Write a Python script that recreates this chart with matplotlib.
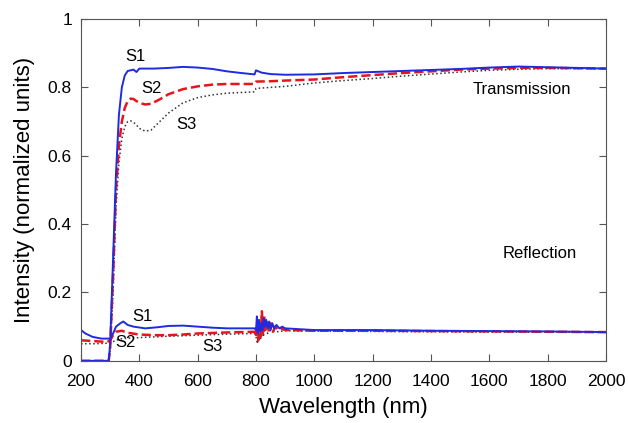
import matplotlib
matplotlib.use("Agg")
import matplotlib.pyplot as plt
from matplotlib.ticker import FormatStrFormatter

plt.rcParams['font.family'] = ['Liberation Sans', 'DejaVu Sans']

# transmission spectra
wl_t1 = [200, 295, 300, 310, 320, 330, 340, 350, 360, 370, 380, 390, 400, 450, 500, 550, 600, 650,
         700, 750, 795, 800, 805, 820, 850, 900, 1000, 1100, 1200, 1300, 1400, 1500, 1600, 1700,
         1800, 1900, 2000]
t_s1 = [0, 0, 0.05, 0.3, 0.55, 0.72, 0.8, 0.835, 0.848, 0.85, 0.852, 0.845, 0.855, 0.855, 0.857,
        0.86, 0.858, 0.854, 0.847, 0.842, 0.838, 0.85, 0.848, 0.843, 0.839, 0.837, 0.838, 0.842,
        0.845, 0.848, 0.851, 0.854, 0.858, 0.861, 0.859, 0.857, 0.855]

wl_t23 = [200, 295, 300, 310, 320, 330, 340, 350, 360, 370, 380, 390, 400, 420, 440, 470, 500, 550,
          600, 650, 700, 795, 800, 850, 900, 1000, 1100, 1200, 1300, 1400, 1500, 1600, 1700, 1800,
          2000]
t_s2 = [0, 0, 0.04, 0.25, 0.5, 0.63, 0.7, 0.74, 0.76, 0.767, 0.766, 0.76, 0.755, 0.75, 0.752,
        0.765, 0.78, 0.795, 0.803, 0.808, 0.81, 0.81, 0.817, 0.818, 0.82, 0.823, 0.83, 0.836, 0.842,
        0.847, 0.852, 0.855, 0.857, 0.857, 0.855]
t_s3 = [0, 0, 0.03, 0.2, 0.45, 0.58, 0.65, 0.685, 0.7, 0.702, 0.698, 0.69, 0.68, 0.672, 0.675,
        0.7, 0.725, 0.755, 0.77, 0.778, 0.783, 0.787, 0.797, 0.8, 0.803, 0.813, 0.82, 0.826, 0.833,
        0.839, 0.845, 0.85, 0.853, 0.855, 0.855]

# reflection spectra
wl_r1 = [200, 215, 240, 270, 300, 310, 320, 335, 345, 360, 380, 420, 460, 500, 550, 600, 650, 700,
         750, 795, 800, 803, 806, 810, 814, 818, 822, 826, 830, 835, 840, 845, 850, 856, 862, 870,
         880, 890, 900, 1000, 1200, 1400, 1600, 1800, 2000]
r_s1 = [0.09, 0.08, 0.07, 0.065, 0.065, 0.08, 0.1, 0.11, 0.115, 0.105, 0.1, 0.095, 0.098, 0.102,
        0.103, 0.1, 0.097, 0.095, 0.095, 0.095, 0.09, 0.13, 0.08, 0.12, 0.085, 0.11, 0.09, 0.125,
        0.1, 0.12, 0.095, 0.115, 0.09, 0.11, 0.095, 0.105, 0.095, 0.1, 0.095, 0.09, 0.09, 0.088,
        0.087, 0.086, 0.084]

wl_r2 = [200, 240, 290, 300, 310, 320, 340, 360, 400, 450, 500, 550, 600, 700, 795, 800, 804, 808,
         812, 816, 820, 824, 828, 832, 838, 844, 850, 858, 866, 875, 885, 900, 1000, 1200, 1400,
         1600, 1800, 2000]
r_s2 = [0.06, 0.058, 0.055, 0.06, 0.075, 0.085, 0.088, 0.082, 0.077, 0.075, 0.075, 0.077, 0.08,
        0.083, 0.085, 0.07, 0.11, 0.06, 0.1, 0.07, 0.145, 0.08, 0.13, 0.09, 0.12, 0.085, 0.11, 0.085,
        0.1, 0.09, 0.095, 0.09, 0.088, 0.088, 0.087, 0.086, 0.085, 0.084]

wl_r3 = [200, 250, 300, 320, 340, 400, 500, 600, 700, 795, 800, 805, 810, 815, 820, 825, 830, 840,
         850, 870, 900, 1000, 1200, 1400, 1600, 1800, 2000]
r_s3 = [0.05, 0.05, 0.052, 0.06, 0.065, 0.068, 0.072, 0.075, 0.078, 0.08, 0.07, 0.05, 0.09, 0.06,
        0.1, 0.07, 0.095, 0.08, 0.09, 0.085, 0.088, 0.087, 0.086, 0.085, 0.084, 0.084, 0.083]

fig = plt.figure(figsize=(6.28, 4.23), dpi=100)
ax = fig.add_axes([0.129, 0.147, 0.836, 0.808])

ax.plot(wl_t23, t_s3, color='#333333', linestyle=':', linewidth=1.1)
ax.plot(wl_r3, r_s3, color='#333333', linestyle=':', linewidth=1.1)
ax.plot(wl_t23, t_s2, color='#e8141c', linestyle='--', linewidth=1.8)
ax.plot(wl_r2, r_s2, color='#e8141c', linestyle='--', linewidth=1.8)
ax.plot(wl_t1, t_s1, color='#1f2be0', linestyle='-', linewidth=1.4)
ax.plot(wl_r1, r_s1, color='#1f2be0', linestyle='-', linewidth=1.4)

ax.text(385, 0.889, 'S1', fontsize=12, ha='center', va='center')
ax.text(443, 0.798, 'S2', fontsize=12, ha='center', va='center')
ax.text(563, 0.69, 'S3', fontsize=12, ha='center', va='center')
ax.text(1712, 0.795, 'Transmission', fontsize=12, ha='center', va='center')
ax.text(1773, 0.313, 'Reflection', fontsize=12, ha='center', va='center')
ax.text(409, 0.129, 'S1', fontsize=12, ha='center', va='center')
ax.text(351, 0.053, 'S2', fontsize=12, ha='center', va='center')
ax.text(649, 0.041, 'S3', fontsize=12, ha='center', va='center')

ax.set_xlim(200, 2000)
ax.set_ylim(0, 1)
ax.set_xticks(range(200, 2001, 200))
ax.set_yticks([0, 0.2, 0.4, 0.6, 0.8, 1])
ax.yaxis.set_major_formatter(FormatStrFormatter('%g'))
ax.tick_params(direction='in', top=True, right=True, labelsize=12.5, length=5, color='#555555')
ax.tick_params(axis='x', pad=9.5)
ax.tick_params(axis='y', pad=6.5)
for s in ax.spines.values():
    s.set_color('#555555')
ax.set_xlabel('Wavelength (nm)', fontsize=16, labelpad=6)
ax.set_ylabel('Intensity (normalized units)', fontsize=16, labelpad=9)

fig.savefig('out.png', dpi=100)
